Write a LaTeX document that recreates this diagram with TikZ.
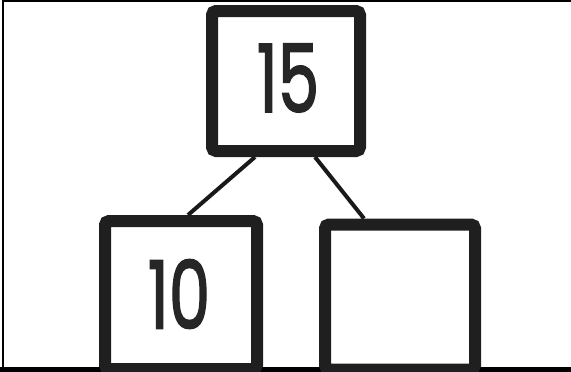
\documentclass[tikz,border=0pt]{standalone}
\usepackage{fontspec}
\setmainfont{Poppins}
\newfontfamily\bondfont[FakeBold=2]{Poppins}
\usepackage{graphicx}
\usetikzlibrary{calc}
\begin{document}
\begin{tikzpicture}[x=1pt,y=-1pt,
    bond/.style={draw=black!88, line width=12pt, rounded corners=4pt, inner sep=0pt, fill=white},
    link/.style={draw=black!90, line width=4pt},
    digits/.style={font=\bondfont\fontsize{94}{94}\selectfont, text=black!85}
]
\useasboundingbox (0,0) rectangle (571,372);
\clip (0,0) rectangle (571,372);
\draw[line width=2pt] (3,372) -- (3,1) -- (571,1);
\draw[line width=5pt] (0,369) -- (571,369);
\node[bond, minimum width=148pt, minimum height=140pt] (whole) at (286,81) {};
\node[bond, minimum width=152pt, minimum height=148pt] (part1) at (181,295) {};
\node[bond, minimum width=150pt, minimum height=145pt] (part2) at (400,297) {};
\node[digits] (n15) at (288,78) {\scalebox{0.7}[1]{15}};
\node[digits] (n10) at (179,294) {\scalebox{0.7}[1]{10}};
\draw[link] ($(whole.south)+(-31,0)$) -- ($(part1.north)+(7,0)$);
\draw[link] ($(whole.south)+(29,0)$) -- ($(part2.north)+(-36,0)$);
\end{tikzpicture}
\end{document}
